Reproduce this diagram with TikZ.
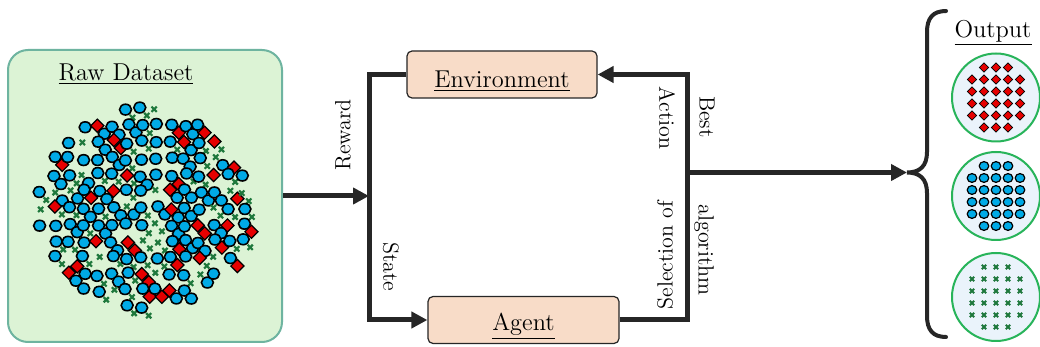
\documentclass[tikz,border=0pt]{standalone}
\usetikzlibrary{arrows.meta,calc}
\definecolor{rawfill}{RGB}{220,243,213}
\definecolor{rawdraw}{RGB}{110,180,160}
\definecolor{peach}{RGB}{248,220,200}
\definecolor{outfill}{RGB}{234,243,251}
\definecolor{outdraw}{RGB}{40,180,90}
\definecolor{bluept}{RGB}{0,170,230}
\definecolor{redpt}{RGB}{230,0,0}
\definecolor{greenpt}{RGB}{30,120,60}
\definecolor{linec}{RGB}{38,38,38}
\tikzset{
  bdot/.pic={\draw[fill=bluept, line width=0.8pt] (0,0) ellipse (3pt and 2.7pt);},
  rdia/.pic={\draw[fill=redpt, line width=0.6pt] (0,3.3pt)--(3.3pt,0)--(0,-3.3pt)--(-3.3pt,0)--cycle;},
  gx/.pic={\draw[greenpt, line width=1.1pt] (-1.3pt,-1.3pt)--(1.3pt,1.3pt) (-1.3pt,1.3pt)--(1.3pt,-1.3pt);},
  sbdot/.pic={\draw[fill=bluept, line width=0.6pt] (0,0) ellipse (2.4pt and 2.2pt);},
  srdia/.pic={\draw[fill=redpt, line width=0.4pt] (0,2.3pt)--(2.3pt,0)--(0,-2.3pt)--(-2.3pt,0)--cycle;},
  sgx/.pic={\draw[greenpt, line width=0.9pt] (-1.1pt,-1.1pt)--(1.1pt,1.1pt) (-1.1pt,1.1pt)--(1.1pt,-1.1pt);},
  flow/.style={draw=linec, line width=2.5pt},
  flowarrow/.style={flow, -{Triangle[length=8pt,width=8pt]}},
  peachbox/.style={draw=linec, fill=peach, line width=0.6pt, rounded corners=2.5pt, minimum height=23.5pt},
  outcirc/.style={circle, draw=outdraw, fill=outfill, line width=1pt, minimum size=44pt, inner sep=0pt},
  lbl/.style={font=\fontsize{11}{13}\selectfont, inner sep=0pt},
  ttl/.style={font=\fontsize{12.2}{14}\selectfont, inner sep=0pt},
}
\begin{document}
\begin{tikzpicture}[x=0.5pt,y=-0.5pt]
\useasboundingbox[fill=white] (0,0) rectangle (1040,347);

% raw dataset box
\node[draw=rawdraw, fill=rawfill, line width=1pt, rounded corners=10pt,
      minimum width=137pt, minimum height=146pt, inner sep=0pt] (raw) at (145,196) {};
\node[ttl] (rawt) at (126,74) {\underline{Raw Dataset}};

% scatter
\pgfmathsetseed{11}
\foreach \i in {0,...,14}{
  \foreach \j in {0,...,12}{
    \pgfmathsetmacro{\px}{40+\i*14.5+2*rand}
    \pgfmathsetmacro{\py}{109+\j*16.5+2*rand}
    \pgfmathtruncatemacro{\inside}{((\px-143)/106)^2+((\py-207)/101)^2<1 ? 1 : 0}
    \ifnum\inside=1
      \pgfmathsetmacro{\myr}{rnd}
      \pgfmathtruncatemacro{\typ}{\myr<0.62 ? 0 : (\myr<0.8 ? 1 : (\myr<0.95 ? 2 : 3))}
      \ifcase\typ
        \pic at (\px,\py) {bdot};
      \or
        \pic at (\px,\py) {rdia};
      \or
        \pic at (\px,\py) {gx};
      \or
      \fi
      \pgfmathsetmacro{\mys}{rnd}
      \pgfmathtruncatemacro{\typb}{\mys<0.2 ? 0 : (\mys<0.3 ? 1 : (\mys<0.7 ? 2 : 3))}
      \ifcase\typb
        \pic at (\px+7,\py+8) {bdot};
      \or
        \pic at (\px+7,\py+8) {rdia};
      \or
        \pic at (\px+7,\py+8) {gx};
      \or
      \fi
    \fi
  }
}

% environment / agent
\node[peachbox, minimum width=95pt] (env) at (502,74.5) {};
\node[ttl] (envt) at (502,81) {\underline{Environment}};
\node[peachbox, minimum width=95.5pt] (agent) at (523.5,320) {};
\node[ttl] (agentt) at (523.5,326) {\underline{Agent}};

% loop coordinates
\coordinate (tl) at (369,74.5);
\coordinate (bl) at (369,320);
\coordinate (tr) at (687,74.5);
\coordinate (br) at (687,320);
\coordinate (ml) at (369,196);
\coordinate (mr) at (687,172.5);
\coordinate (tip) at (907,172.5);

\draw[flowarrow] (env.west) -- (tl) -- (bl) -- (agent.west);
\draw[flowarrow] (agent.east) -- (br) -- (tr) -- (env.east);
\draw[flowarrow] (raw.east) -- (ml);
\draw[flowarrow] (mr) -- (tip);

% labels
\node[lbl, rotate=90] (reward) at (343,135) {Reward};
\node[lbl, rotate=-90] (state) at (391,267) {State};
\node[lbl, rotate=-90] (action) at (667,118) {Action};
\node[lbl, rotate=90] (selof) at (665,255) {Selection of};
\node[lbl, rotate=-90] (best) at (707,117) {Best};
\node[lbl, rotate=-90] (algo) at (704,250) {algorithm};

% brace
\draw[draw=linec, line width=2pt, line cap=round]
  (946,11) .. controls (933,11) and (927,18) .. (927,32) -- (927,152)
  .. controls (927,166) and (920,172.5) .. (tip)
  .. controls (920,172.5) and (927,179) .. (927,193) -- (927,316)
  .. controls (927,330) and (933,337) .. (946,337);

% output
\node[ttl] (outt) at (993,33) {\underline{Output}};
\node[outcirc] (o1) at (996,97.5) {};
\node[outcirc] (o2) at (996,196) {};
\node[outcirc] (o3) at (996,297) {};

\foreach \c/\p in {o1/srdia, o2/sbdot, o3/sgx}{
  \foreach \dy in {-30,30}{
    \foreach \dx in {-12,0,12}{
      \pic at ($(\c)+(\dx,\dy)$) {\p};
    }
  }
  \foreach \dy in {-18,-6,6,18}{
    \foreach \dx in {-24,-12,0,12,24}{
      \pic at ($(\c)+(\dx,\dy)$) {\p};
    }
  }
}
\end{tikzpicture}
\end{document}
